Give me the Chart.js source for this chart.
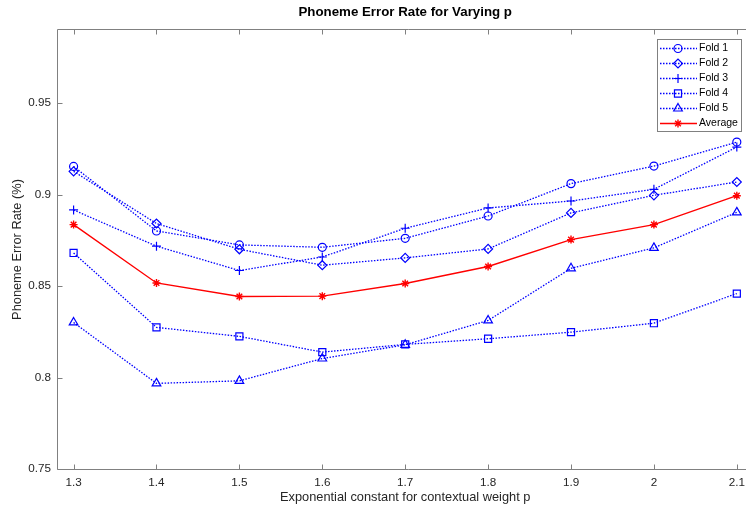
<!DOCTYPE html>
<html>
<head>
<meta charset="utf-8">
<title>Phoneme Error Rate</title>
<script src="https://cdn.jsdelivr.net/npm/chart.js@4.4.0/dist/chart.umd.min.js"></script>
<style>
	html, body { margin: 0; padding: 0; background: #fff; overflow: hidden; }
	#frame { width: 746px; height: 508px; overflow: hidden; position: relative; }
	#myChart { position: absolute; left: 0; top: 0; }
</style>
</head>
<body>
<div id="frame"><canvas id="myChart" width="760" height="508"></canvas></div>
<script>
// exponent p used for the contextual weight
var pValues = [1.3, 1.4, 1.5, 1.6, 1.7, 1.8, 1.9, 2.0, 2.1];

// error rate per fold
var fold1 = [0.9154, 0.8801, 0.8725, 0.8712, 0.8761, 0.8883, 0.9060, 0.9156, 0.9287];
var fold2 = [0.9127, 0.8842, 0.8701, 0.8614, 0.8654, 0.8703, 0.8900, 0.8996, 0.9069];
var fold3 = [0.8916, 0.8718, 0.8585, 0.8659, 0.8816, 0.8927, 0.8965, 0.9029, 0.9260];
var fold4 = [0.8681, 0.8274, 0.8225, 0.8139, 0.8181, 0.8212, 0.8248, 0.8297, 0.8459];
var fold5 = [0.8301, 0.7968, 0.7982, 0.8104, 0.8179, 0.8312, 0.8597, 0.8709, 0.8903];
var average = [0.8836, 0.8517, 0.8443, 0.8445, 0.8514, 0.8607, 0.8754, 0.8836, 0.8994];

var seriesNames = ["Fold 1", "Fold 2", "Fold 3", "Fold 4", "Fold 5", "Average"];
var xTicks = [1.3, 1.4, 1.5, 1.6, 1.7, 1.8, 1.9, 2, 2.1];
var yTicks = [0.75, 0.8, 0.85, 0.9, 0.95];

var AXIS_GRAY = "#808080";
var TEXT_DARK = "#262626";

Chart.defaults.font.family = '"Liberation Sans", Arial, Helvetica, sans-serif';

function toPoints(values) {
	var pts = [];
	for (var i = 0; i < values.length; i++) {
		pts.push({x: pValues[i], y: values[i]});
	}
	return pts;
}

function foldSet(label, values, style, radius, order) {
	return {
		label: label,
		data: toPoints(values),
		borderColor: "#0000ff",
		borderWidth: 1.3,
		borderDash: [1.5, 1.5],
		pointStyle: style,
		pointRadius: radius,
		pointBorderColor: "#0000ff",
		pointBackgroundColor: "rgba(0,0,0,0)",
		pointBorderWidth: 1.2,
		fill: false,
		tension: 0,
		order: order
	};
}

// axes outline (left, top, bottom) with inward tick marks
var axesFrame = {
	id: "axesFrame",
	beforeDatasetsDraw: function (chart) {
		var a = chart.chartArea;
		var ctx = chart.ctx;
		var xs = chart.scales.x;
		var ys = chart.scales.y;
		var L = Math.round(a.left) + 0.5;
		var T = Math.round(a.top) - 0.5;
		var B = Math.round(a.bottom) + 0.5;
		var W = chart.width;
		var len = 5;

		ctx.save();
		ctx.strokeStyle = AXIS_GRAY;
		ctx.lineWidth = 1;

		ctx.beginPath();
		ctx.moveTo(L, T);
		ctx.lineTo(W, T);
		ctx.stroke();

		ctx.beginPath();
		ctx.moveTo(L, B);
		ctx.lineTo(W, B);
		ctx.stroke();

		ctx.beginPath();
		ctx.moveTo(L, T);
		ctx.lineTo(L, B);
		ctx.stroke();

		for (var i = 0; i < xTicks.length; i++) {
			var px = Math.round(xs.getPixelForValue(xTicks[i])) + 0.5;
			ctx.beginPath();
			ctx.moveTo(px, B); ctx.lineTo(px, B - len);
			ctx.moveTo(px, T); ctx.lineTo(px, T + len);
			ctx.stroke();
		}
		for (var j = 0; j < yTicks.length; j++) {
			var py = Math.round(ys.getPixelForValue(yTicks[j])) + 0.5;
			ctx.beginPath();
			ctx.moveTo(L, py); ctx.lineTo(L + len, py);
			ctx.stroke();
		}
		ctx.restore();
	}
};

// legend in the upper right corner: line sample, marker, name
var legendBox = {
	id: "legendBox",
	afterDraw: function (chart) {
		var ctx = chart.ctx;
		var x0 = 657, y0 = 39, w = 84, h = 92;
		var sets = chart.data.datasets;

		ctx.save();
		ctx.fillStyle = "#ffffff";
		ctx.fillRect(x0, y0, w, h);
		ctx.strokeStyle = AXIS_GRAY;
		ctx.lineWidth = 1;
		ctx.strokeRect(x0 + 0.5, y0 + 0.5, w, h);

		for (var i = 0; i < sets.length; i++) {
			var ds = sets[i];
			var y = y0 + 9.5 + i * 15;

			ctx.strokeStyle = ds.borderColor;
			ctx.lineWidth = ds.borderWidth;
			ctx.setLineDash(ds.borderDash || []);
			ctx.beginPath();
			ctx.moveTo(x0 + 3, y);
			ctx.lineTo(x0 + 40, y);
			ctx.stroke();
			ctx.setLineDash([]);

			ctx.lineWidth = ds.pointBorderWidth;
			ctx.strokeStyle = ds.pointBorderColor;
			ctx.fillStyle = ds.pointBackgroundColor;
			Chart.helpers.drawPoint(ctx, {
				pointStyle: ds.pointStyle,
				radius: ds.pointRadius,
				borderWidth: ds.pointBorderWidth,
				rotation: 0
			}, x0 + 21, y);

			ctx.fillStyle = "#000000";
			ctx.font = '10.5px "Liberation Sans", Arial, sans-serif';
			ctx.textAlign = "left";
			ctx.textBaseline = "middle";
			ctx.fillText(ds.label, x0 + 42, y);
		}
		ctx.restore();
	}
};

new Chart("myChart", {
	type: "line",
	data: {
		datasets: [
			foldSet(seriesNames[0], fold1, "circle", 4, 5),
			foldSet(seriesNames[1], fold2, "rectRot", 4.5, 4),
			foldSet(seriesNames[2], fold3, "cross", 4.5, 3),
			foldSet(seriesNames[3], fold4, "rect", 5, 2),
			foldSet(seriesNames[4], fold5, "triangle", 5, 1),
			{
				label: seriesNames[5],
				data: toPoints(average),
				borderColor: "#ff0000",
				borderWidth: 1.4,
				pointStyle: "star",
				pointRadius: 4,
				pointBorderColor: "#ff0000",
				pointBackgroundColor: "#ff0000",
				pointBorderWidth: 1.4,
				fill: false,
				tension: 0,
				order: 0
			}
		]
	},
	options: {
		responsive: false,
		animation: false,
		events: [],
		layout: {padding: {left: 0, right: 6.6, top: 0, bottom: 0}},
		plugins: {
			legend: {display: false},
			tooltip: {enabled: false},
			title: {
				display: true,
				text: "Phoneme Error Rate for Varying p",
				color: "#000000",
				fullSize: false,
				font: {size: 13.3, weight: "bold", lineHeight: 1.2},
				padding: {top: 4.5, bottom: 9.5}
			}
		},
		scales: {
			x: {
				type: "linear",
				min: 1.28,
				max: 2.12,
				grid: {display: false, drawTicks: false},
				border: {display: false},
				afterBuildTicks: function (scale) {
					scale.ticks = xTicks.map(function (v) { return {value: v}; });
				},
				afterFit: function (scale) { scale.height = 39; },
				ticks: {
					color: TEXT_DARK,
					font: {size: 11.7, lineHeight: 1.2},
					padding: 7,
					maxRotation: 0,
					autoSkip: false,
					callback: function (value) { return String(value); }
				},
				title: {
					display: true,
					text: "Exponential constant for contextual weight p",
					color: TEXT_DARK,
					font: {size: 12.8, lineHeight: 1.2},
					padding: {top: 0, bottom: 3}
				}
			},
			y: {
				type: "linear",
				min: 0.75,
				max: 0.99,
				grid: {display: false, drawTicks: false},
				border: {display: false},
				afterBuildTicks: function (scale) {
					scale.ticks = yTicks.map(function (v) { return {value: v}; });
				},
				afterFit: function (scale) { scale.width = 57; },
				ticks: {
					color: TEXT_DARK,
					font: {size: 11.7, lineHeight: 1.2},
					padding: 6,
					autoSkip: false,
					callback: function (value) { return String(value); }
				},
				title: {
					display: true,
					text: "Phoneme Error Rate (%)",
					color: TEXT_DARK,
					font: {size: 12.8, lineHeight: 1.2},
					padding: {top: 10, bottom: 0}
				}
			}
		}
	},
	plugins: [axesFrame, legendBox]
});
</script>
</body>
</html>
